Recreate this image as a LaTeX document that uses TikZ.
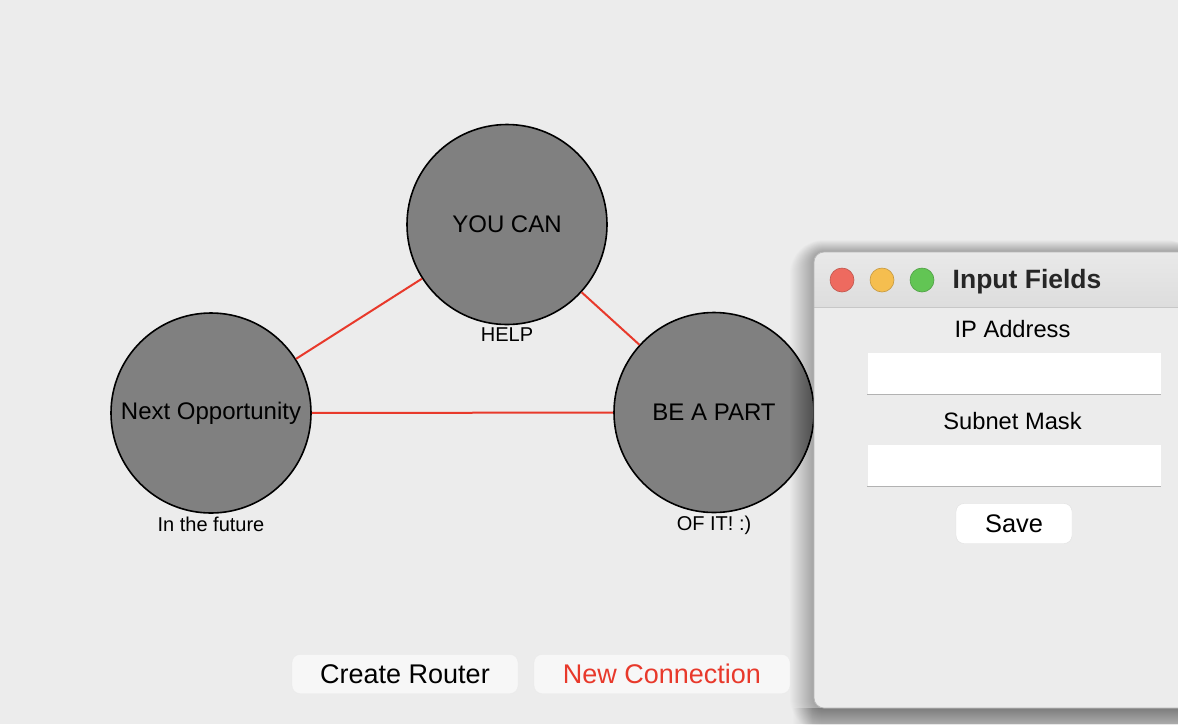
\documentclass[tikz,border=0pt]{standalone}
\usepackage{fontspec}
\setsansfont{Liberation Sans}

\definecolor{hinter}{HTML}{ECECEC}
\definecolor{knoten}{HTML}{808080}
\definecolor{leitung}{HTML}{E8392B}
\definecolor{tbOben}{HTML}{E9E9E9}
\definecolor{tbUnten}{HTML}{DDDDDD}
\definecolor{titel}{HTML}{262626}
\definecolor{ampelRot}{HTML}{EE6A5F}
\definecolor{ampelGelb}{HTML}{F5BE4F}
\definecolor{ampelGruen}{HTML}{62C554}
\definecolor{knopfgrund}{HTML}{F7F7F7}

\begin{document}
\begin{tikzpicture}[x=1pt, y=-1pt,
        font=\sffamily\upshape,
        router/.style={circle, draw, line width=1.6pt, fill=knoten,
            minimum size=200pt, inner sep=0pt,
            font=\sffamily\fontsize{24}{28}\selectfont},
        unten/.style={inner sep=2.5pt, font=\sffamily\fontsize{20}{24}\selectfont},
        link/.style={draw=leitung, line width=2pt},
        knopf/.style={rounded corners=8pt, fill=knopfgrund, draw=black!8,
            inner sep=0pt, font=\sffamily\fontsize{27}{32}\selectfont},
        feld/.style={fill=white, minimum width=293pt, minimum height=41pt, inner sep=0pt},
        beschriftung/.style={inner sep=0pt, font=\sffamily\fontsize{23.7}{28}\selectfont},
        ampel/.style={circle, minimum size=24pt, inner sep=0pt, line width=.6pt}
        ]
            \useasboundingbox (0,0) rectangle (1178,724);
            \clip (0,0) rectangle (1178,724);
            \fill[hinter] (0,0) rectangle (1178,724);

            % Router
            \node[router, label={[unten, name=lYC]below:HELP}] (YC) at (507,224.5) {YOU CAN};
            \node[router, label={[unten, name=lNO]below:In the future}] (NO) at (211,413) {Next Opportunity};
            \node[router, label={[unten, name=lBP]below:{OF IT! :)}}] (BP) at (714,412.5) {BE A PART};

            % Verbindungen
            \draw[link] (YC) -- (NO)
                        (YC) -- (BP)
                        (NO) -- (BP);

            % Knoepfe
            \node[knopf, minimum width=226pt, minimum height=39pt] (CR) at (405,674) {Create Router};
            \node[knopf, text=leitung, minimum width=256pt, minimum height=39pt] (NC) at (662,674) {New Connection};

            % Schatten
            \foreach \i in {1,...,24}
                \fill[black, fill opacity=.011, rounded corners=10pt+\i pt]
                    (814-\i, 252-.5*\i) rectangle (1200, 708+\i);
            \foreach \i in {1,...,20}
                \fill[black, fill opacity=.008] (792+\i, 708) rectangle (1178, 724);

            % Fenster
            \fill[hinter, rounded corners=10pt] (814,252) rectangle (1200,708);
            \shade[top color=tbOben, bottom color=tbUnten]
                (814,307) [rounded corners=10pt] -- (814,252) -- (1200,252)
                [sharp corners] -- (1200,307) -- cycle;
            \draw[black!22] (814,307) -- (1178,307);
            \draw[black!28, line width=.8pt, rounded corners=10pt] (814,252) rectangle (1200,708);

            \node[ampel, fill=ampelRot, draw=ampelRot!80!black] (AR) at (842,280) {};
            \node[ampel, fill=ampelGelb, draw=ampelGelb!80!black] (AG) at (882,280) {};
            \node[ampel, fill=ampelGruen, draw=ampelGruen!80!black] (AN) at (922,280) {};
            \node[anchor=base west, inner sep=0pt, text=titel,
                  font=\sffamily\bfseries\fontsize{26.5}{30}\selectfont] (TI) at (952.5,288) {Input Fields};

            % Eingabe
            \node[beschriftung] (IP) at (1012.5,329) {IP Address};
            \node[feld] (FIP) at (1014,373.5) {};
            \node[beschriftung] (SM) at (1012.5,421.5) {Subnet Mask};
            \node[feld] (FSM) at (1014,465.5) {};
            \draw[black!30] (FIP.south west) -- (FIP.south east)
                            (FSM.south west) -- (FSM.south east);

            \node[knopf, fill=white, draw=black!12, minimum width=116pt, minimum height=40pt,
                  font=\sffamily\fontsize{25.4}{30}\selectfont] (SV) at (1014,523.5) {Save};
        \end{tikzpicture}
\end{document}
